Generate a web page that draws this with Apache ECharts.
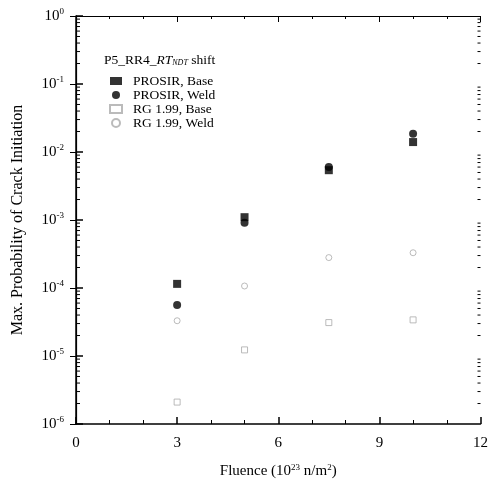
<!DOCTYPE html>
<html><head><meta charset="utf-8">
<script src="https://cdn.jsdelivr.net/npm/echarts@6/dist/echarts.min.js"></script>
<style>html,body{margin:0;padding:0;background:#fff}#c{width:491px;height:486px}</style>
</head><body><div id="c"></div>
<script>
const fluence = [3, 5, 7.5, 10];
const prosirBase = [1.15e-4, 1.1e-3, 5.4e-3, 1.4e-2];
const prosirWeld = [5.6e-5, 9.1e-4, 6.0e-3, 1.85e-2];
const rgBase = [2.1e-6, 1.23e-5, 3.1e-5, 3.4e-5];
const rgWeld = [3.3e-5, 1.07e-4, 2.8e-4, 3.3e-4];
const seriesNames = ['PROSIR, Base', 'PROSIR, Weld', 'RG 1.99, Base', 'RG 1.99, Weld'];
const decadeExps = [-6, -5, -4, -3, -2, -1];
const minorMult = [2, 3, 4, 5, 6, 7, 8, 9];

// log minor tick values (axis decoration, from decade/multiplier lists)
const minorTickVals = [];
decadeExps.forEach(e => minorMult.forEach(m => minorTickVals.push([0, m * Math.pow(10, e)])));

const font = 'Liberation Serif';
const chart = echarts.init(document.getElementById('c'));
const pair = (xs, ys) => xs.map((x, i) => [x, ys[i]]);

chart.setOption({
  animation: false,
  textStyle: {fontFamily: font},
  grid: {left: 76, right: 9, top: 16, bottom: 62},
  xAxis: [{
    type: 'value', min: 0, max: 12, interval: 3,
    axisLine: {lineStyle: {color: '#000', width: 1.5}},
    axisTick: {inside: true, length: 7, lineStyle: {color: '#000', width: 1.5}},
    minorTick: {show: true, splitNumber: 3, length: 4, lineStyle: {color: '#000'}},
    splitLine: {show: false},
    axisLabel: {color: '#000', fontSize: 15, fontFamily: font, margin: 12},
    name: 'Fluence (10{s|23} n/m{s|2})', nameLocation: 'middle', nameGap: 39,
    nameTextStyle: {color: '#000', fontSize: 15, fontFamily: font,
      rich: {s: {fontSize: 9, verticalAlign: 'top', padding: [0,0,8,0], fontFamily: font}}}
  }, {
    type: 'value', min: 0, max: 12, interval: 3, position: 'top',
    axisLine: {show: true, lineStyle: {color: '#000', width: 1.2}},
    axisTick: {inside: true, length: 6, lineStyle: {color: '#000'}},
    minorTick: {show: true, splitNumber: 3, length: 3, lineStyle: {color: '#000'}},
    axisLabel: {show: false}, splitLine: {show: false}
  }],
  yAxis: [{
    type: 'log', logBase: 10, min: 1e-6, max: 1,
    axisLine: {show: true, lineStyle: {color: '#000', width: 1.5}},
    axisTick: {inside: true, length: 7, lineStyle: {color: '#000', width: 1.5}},
    minorTick: {show: false},
    splitLine: {show: false},
    axisLabel: {color: '#000', fontSize: 15, fontFamily: font, margin: 12,
      formatter: v => '10{s|' + Math.round(Math.log10(v)) + '}',
      rich: {s: {fontSize: 9, verticalAlign: 'top', padding: [0,0,8,0], fontFamily: font}}},
    name: 'Max. Probability of Crack Initiation', nameLocation: 'middle', nameGap: 50,
    nameTextStyle: {color: '#000', fontSize: 16, fontFamily: font}
  }, {
    type: 'log', logBase: 10, min: 1e-6, max: 1, position: 'right',
    axisLine: {show: true, lineStyle: {color: '#000', width: 1.2}},
    axisTick: {inside: true, length: 6, lineStyle: {color: '#000'}},
    minorTick: {show: false},
    axisLabel: {show: false}, splitLine: {show: false}
  }],
  legend: {
    left: 104, top: 69, orient: 'vertical', itemGap: 0,
    itemWidth: 12, itemHeight: 8,
    textStyle: {color: '#000', fontSize: 13.5, lineHeight: 13, height: 13, fontFamily: font, padding: [0,0,0,6]},
    data: seriesNames
  },
  graphic: [{
    type: 'text', left: 104, top: 53,
    style: {
      text: 'P5_RR4_{i|RT}{s|NDT} shift',
      fontSize: 13.5, fontFamily: font, fill: '#000',
      rich: {i: {fontStyle: 'italic', fontSize: 13.5, fontFamily: font},
             s: {fontStyle: 'italic', fontSize: 8, verticalAlign: 'bottom', padding: [6,0,0,0], fontFamily: font}}
    }
  }],
  series: [
    {name: seriesNames[0], type: 'scatter', data: pair(fluence, prosirBase),
     symbol: 'rect', symbolSize: 8, itemStyle: {color: '#000'}, z: 5},
    {name: seriesNames[1], type: 'scatter', data: pair(fluence, prosirWeld),
     symbol: 'circle', symbolSize: 8, itemStyle: {color: '#000'}, z: 5},
    {name: seriesNames[2], type: 'scatter', data: pair(fluence, rgBase),
     symbol: 'rect', symbolSize: 6, itemStyle: {color: '#fff', borderColor: '#aaa', borderWidth: 1}, z: 5},
    {name: seriesNames[3], type: 'scatter', data: pair(fluence, rgWeld),
     symbol: 'circle', symbolSize: 6, itemStyle: {color: '#fff', borderColor: '#aaa', borderWidth: 1}, z: 5},
    {name: 'minorTicks', type: 'custom', data: minorTickVals, silent: true,
     legendHoverLink: false, clip: false, z: 1,
     renderItem: (params, api) => {
       const p = api.coord([0, api.value(1)]);
       const q = api.coord([12, api.value(1)]);
       return {type: 'group', children: [
         {type: 'line', shape: {x1: p[0], y1: p[1], x2: p[0] + 4, y2: p[1]}, style: {stroke: '#000', lineWidth: 1}},
         {type: 'line', shape: {x1: q[0], y1: q[1], x2: q[0] - 3, y2: q[1]}, style: {stroke: '#000', lineWidth: 1}}
       ]};
     }}
  ]
});
</script></body></html>
